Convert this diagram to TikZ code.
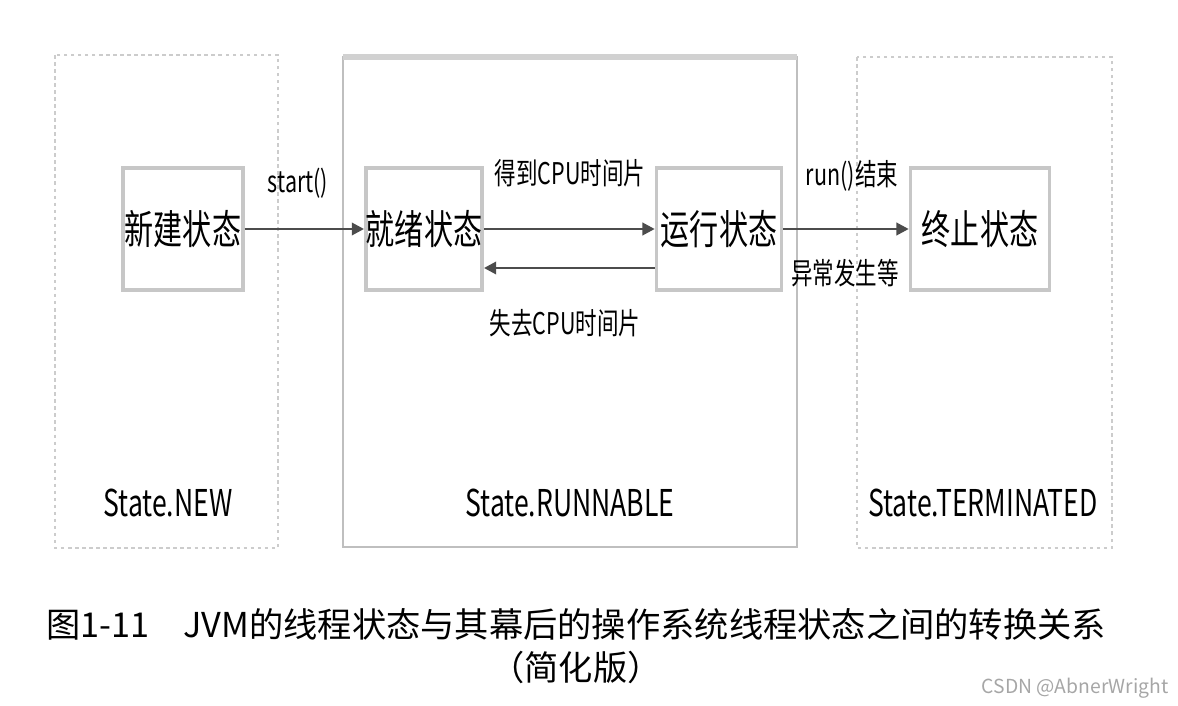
\documentclass[tikz,border=0pt]{standalone}
\usepackage{fontspec}
\setmainfont{Noto Sans CJK SC}
\newfontfamily\cnc[FakeStretch=0.72]{Noto Sans CJK SC}
\usetikzlibrary{arrows.meta}
\begin{document}
\begin{tikzpicture}[x=0.02cm,y=-0.02cm,
  cont/.style={draw=black!25,line width=1.5pt},
  dcont/.style={draw=black!20,line width=1.5pt,dash pattern=on 2pt off 2pt},
  st/.style={draw=black!22,line width=2pt,fill=white,minimum width=#1,minimum height=2.44cm,font=\cnc\fontsize{23}{26}\selectfont,inner sep=0pt},
  lab/.style={font=\cnc\fontsize{17}{19}\selectfont},
  slab/.style={font=\cnc\fontsize{21}{24}\selectfont},
  arr/.style={line width=1.6pt,draw=black!70,-{Triangle[length=7pt,width=7pt]}}]
\useasboundingbox (0,0) rectangle (1178,706);
\draw[dcont] (55,55) rectangle (278,548);
\draw[cont] (343,57) rectangle (797,547);
\draw[draw=black!18,line width=3pt] (343,57) -- (797,57);
\draw[dcont] (857,57) rectangle (1112,548);
\node[st=2.4cm] (new) at (183,229) {新建状态};
\node[st=2.3cm] (ready) at (424,229) {就绪状态};
\node[st=2.5cm] (run) at (719,229) {运行状态};
\node[st=2.78cm] (term) at (980,229) {终止状态};
\draw[arr] (new.east) -- (ready.west);
\draw[arr] (ready.east) -- (run.west);
\draw[arr] (run.west |- 0,268) -- (ready.east |- 0,268);
\draw[arr] (run.east) -- (term.west);
\node[lab] (l1) at (298,183) {start()};
\node[lab] (l2) at (570,173) {得到CPU时间片};
\node[lab] (l3) at (565,323) {失去CPU时间片};
\node[lab] (l4) at (852,176) {run()结束};
\node[lab] (l5) at (845,273) {异常发生等};
\node[slab] (s1) at (168,503) {State.NEW};
\node[slab] (s2) at (570,503) {State.RUNNABLE};
\node[slab] (s3) at (983,503) {State.TERMINATED};
\node[font=\fontsize{19.5}{22}\selectfont] (cap1) at (576,624) {图1-11\quad JVM的线程状态与其幕后的操作系统线程状态之间的转换关系};
\node[font=\fontsize{19.5}{22}\selectfont] (cap2) at (576,667) {（简化版）};
\node[font=\fontsize{11}{13}\selectfont,text=black!35] (wm) at (1075,688) {CSDN @AbnerWright};
\end{tikzpicture}
\end{document}
